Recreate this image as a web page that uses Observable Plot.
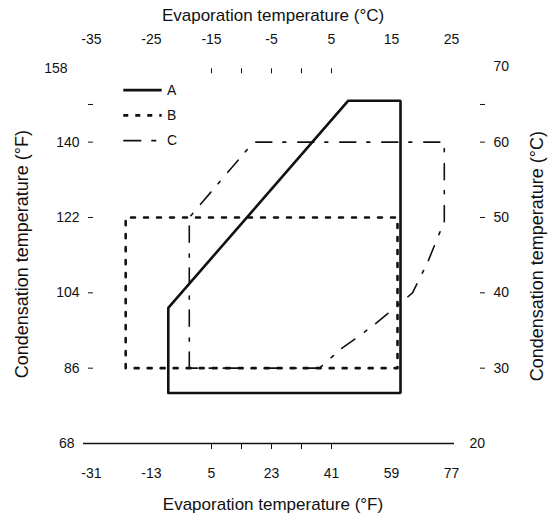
<!DOCTYPE html>
<html>
<head>
<meta charset="utf-8">
<script src="https://cdn.jsdelivr.net/npm/d3@7"></script>
<script src="https://cdn.jsdelivr.net/npm/@observablehq/plot@0.6"></script>
<style>
  html, body { margin: 0; padding: 0; background: #fff; }
  #chart svg { display: block; }
</style>
</head>
<body>
<div id="chart"></div>
<script>
// ---- Data (temperatures in °C) ----
const seriesNames = ["A", "B", "C"];

const aEvap = [-22.2, -22.2, 7.8, 16.5, 16.5, -22.2];
const aCond = [26.7, 38.0, 65.5, 65.5, 26.7, 26.7];

const bEvap = [-29.3, -29.3, 16.0, 16.0, -29.3];
const bCond = [30, 50, 50, 30, 30];

const cEvap = [-18.7, -18.7, -8.0, 23.8, 23.8, 21.0, 18.5, 16.0, 12.5, 9.5, 6.5, 3.0, -18.7];
const cCond = [30, 50, 60, 60, 49.5, 44.0, 40.0, 38.3, 36.0, 34.2, 32.5, 30, 30];

// ---- Ticks ----
const xTicksC = [-35, -25, -15, -5, 5, 15, 25];
const xLabelsC = ["-35", "-25", "-15", "-5", "5", "15", "25"];
const xLabelsF = ["-31", "-13", "5", "23", "41", "59", "77"];
const xMinorTicks = [-15, -10, -5, 0, 5];

const yTicksC = [20, 30, 40, 50, 60, 70];
const yLabelsC = ["20", "30", "40", "50", "60", "70"];
const yLabelsF = ["68", "86", "104", "122", "140", "158"];
const yMinorTicks = [30, 40, 50, 60, 65];

const toRows = (xs, ys, s) => xs.map((x, i) => ({evap: x, cond: ys[i], series: s}));
const rowsA = toRows(aEvap, aCond, "A");
const rowsB = toRows(bEvap, bCond, "B");
const rowsC = toRows(cEvap, cCond, "C");

const fmtX = (arr) => (d) => arr[xTicksC.indexOf(d)];
const fmtY = (arr) => (d) => arr[yTicksC.indexOf(d)];
const noLabel = () => "";

const styles = {
  A: {strokeWidth: 2.6, strokeDasharray: null},
  B: {strokeWidth: 2.6, strokeDasharray: "4 9"},
  C: {strokeWidth: 1.6, strokeDasharray: "16 11 3 12"}
};

// legend rows (data space, derived from series index)
const legendRows = seriesNames.map((s, i) => ({series: s, y: 66.9 - i * 3.35}));

const font = "Liberation Sans, Arial, Helvetica, sans-serif";
const ink = "#111";

const chart = Plot.plot({
  width: 550,
  height: 517,
  marginLeft: 83,
  marginRight: 96,
  marginTop: 66.3,
  marginBottom: 74,
  style: {fontFamily: font, fontSize: "14px", color: ink, background: "#fff"},
  x: {domain: [-36.33, 25.5], axis: null},
  y: {domain: [20, 70], axis: null},
  marks: [
    // bottom axis line
    Plot.ruleY([20], {stroke: ink, strokeWidth: 1.6}),

    // bottom (°F) labels
    Plot.axisX({anchor: "bottom", ticks: xTicksC, tickFormat: fmtX(xLabelsF), tickSize: 0, tickPadding: 25, fontSize: 14, fill: ink, label: null}),
    Plot.axisX({anchor: "bottom", ticks: xMinorTicks, tickFormat: noLabel, tickSize: 5, dy: 1, stroke: ink, label: null}),

    // top (°C) labels
    Plot.axisX({anchor: "top", ticks: xTicksC, tickFormat: fmtX(xLabelsC), tickSize: 0, tickPadding: 23, fontSize: 14, fill: ink, label: null}),
    Plot.axisX({anchor: "top", ticks: xMinorTicks, tickFormat: noLabel, tickSize: 5, dy: 6, stroke: ink, label: null}),

    // left (°F) labels
    Plot.axisY({anchor: "left", ticks: [30, 40, 50, 60], tickFormat: fmtY(yLabelsF), tickSize: 0, tickPadding: 4, fontSize: 14, fill: ink, label: null}),
    Plot.axisY({anchor: "left", ticks: [70], tickFormat: fmtY(yLabelsF), tickSize: 0, tickPadding: 16, dy: 2, fontSize: 14, fill: ink, label: null}),
    Plot.axisY({anchor: "left", ticks: [20], tickFormat: fmtY(yLabelsF), tickSize: 0, tickPadding: 9, fontSize: 14, fill: ink, label: null}),
    Plot.axisY({anchor: "left", ticks: yMinorTicks, tickFormat: noLabel, tickSize: 5, dx: 10, stroke: ink, label: null}),

    // right (°C) labels
    Plot.axisY({anchor: "right", ticks: [30, 40, 50, 60, 70], tickFormat: fmtY(yLabelsC), tickSize: 0, tickPadding: 39, fontSize: 14, fill: ink, label: null}),
    Plot.axisY({anchor: "right", ticks: [20], tickFormat: fmtY(yLabelsC), tickSize: 0, tickPadding: 15, fontSize: 14, fill: ink, label: null}),
    Plot.axisY({anchor: "right", ticks: yMinorTicks, tickFormat: noLabel, tickSize: 5, dx: 25, stroke: ink, label: null}),

    // titles
    Plot.text(["Evaporation temperature (°C)"], {frameAnchor: "top", dx: 4, dy: -51, fontSize: 17, fill: ink, lineAnchor: "middle", textAnchor: "middle"}),
    Plot.text(["Evaporation temperature (°F)"], {frameAnchor: "bottom", dx: 4, dy: 61, fontSize: 17, fill: ink, lineAnchor: "middle", textAnchor: "middle"}),
    Plot.text(["Condensation temperature (°F)"], {frameAnchor: "left", dx: -61, dy: -1, rotate: -90, fontSize: 18, fill: ink, lineAnchor: "middle", textAnchor: "middle"}),
    Plot.text(["Condensation temperature (°C)"], {frameAnchor: "right", dx: 83, dy: 1, rotate: -90, fontSize: 18, fill: ink, lineAnchor: "middle", textAnchor: "middle"}),

    // series outlines
    Plot.line(rowsA, {x: "evap", y: "cond", stroke: ink, strokeWidth: styles.A.strokeWidth, strokeLinejoin: "miter"}),
    Plot.line(rowsB, {x: "evap", y: "cond", stroke: ink, strokeWidth: styles.B.strokeWidth, strokeDasharray: styles.B.strokeDasharray}),
    Plot.line(rowsC, {x: "evap", y: "cond", stroke: ink, strokeWidth: styles.C.strokeWidth, strokeDasharray: styles.C.strokeDasharray}),

    // legend
    ...seriesNames.map((s, i) => Plot.link([legendRows[i]], {
      x1: -29.7, x2: -23.3, y1: "y", y2: "y", stroke: ink,
      strokeWidth: styles[s].strokeWidth,
      strokeDasharray: s === "B" ? "5 7" : s === "C" ? "18 10 5 12" : null
    })),
    Plot.text(legendRows, {x: -22.4, y: "y", text: "series", textAnchor: "start", fontSize: 14, fill: ink})
  ]
});

document.getElementById("chart").appendChild(chart);
</script>
</body>
</html>
